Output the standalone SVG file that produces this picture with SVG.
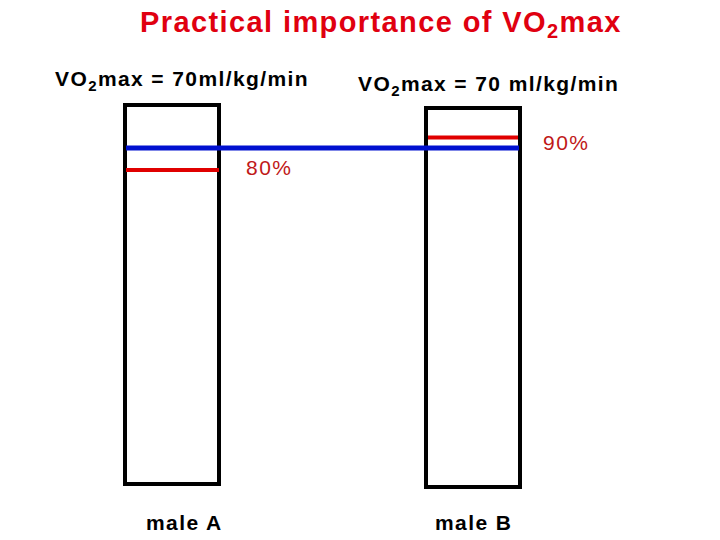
<svg xmlns="http://www.w3.org/2000/svg" width="720" height="540" viewBox="0 0 720 540">
<style>
.t{font-family:"Liberation Sans",Arial,sans-serif;font-weight:bold;fill:#000;letter-spacing:1.4px}
.box{fill:none;stroke:#000;stroke-width:4}
.red{stroke:#e00000;stroke-width:4}
.blue{stroke:#0010d0;stroke-width:5}
.pct{font-family:"Liberation Sans",Arial,sans-serif;font-size:21px;fill:#c01818;letter-spacing:1.5px}
</style>
<rect width="720" height="540" fill="#fff"/>
<text x="140" y="32" class="t" style="font-size:29px;fill:#e00010">Practical importance of VO<tspan font-size="20" dy="6">2</tspan><tspan dy="-6">max</tspan></text>
<text x="55" y="86" class="t" style="font-size:21px">VO<tspan font-size="15" dy="5">2</tspan><tspan dy="-5">max = 70ml/kg/min</tspan></text>
<text x="358" y="91" class="t" style="font-size:21px">VO<tspan font-size="15" dy="5">2</tspan><tspan dy="-5">max = 70 ml/kg/min</tspan></text>
<g id="maleA">
<rect class="box" x="125" y="105" width="94" height="379"/>
<line class="red" x1="126" y1="170" x2="219" y2="170"/>
<text x="246" y="175" class="pct">80%</text>
<text x="146" y="530" class="t" style="font-size:21px">male A</text>
</g>
<g id="maleB">
<rect class="box" x="426" y="108" width="94" height="379"/>
<line class="red" x1="428" y1="137.5" x2="518" y2="137.5"/>
<text x="543" y="150" class="pct">90%</text>
<text x="435" y="530" class="t" style="font-size:21px">male B</text>
</g>
<g id="connectors">
<line class="blue" x1="126" y1="148" x2="519" y2="148"/>
</g>
</svg>
